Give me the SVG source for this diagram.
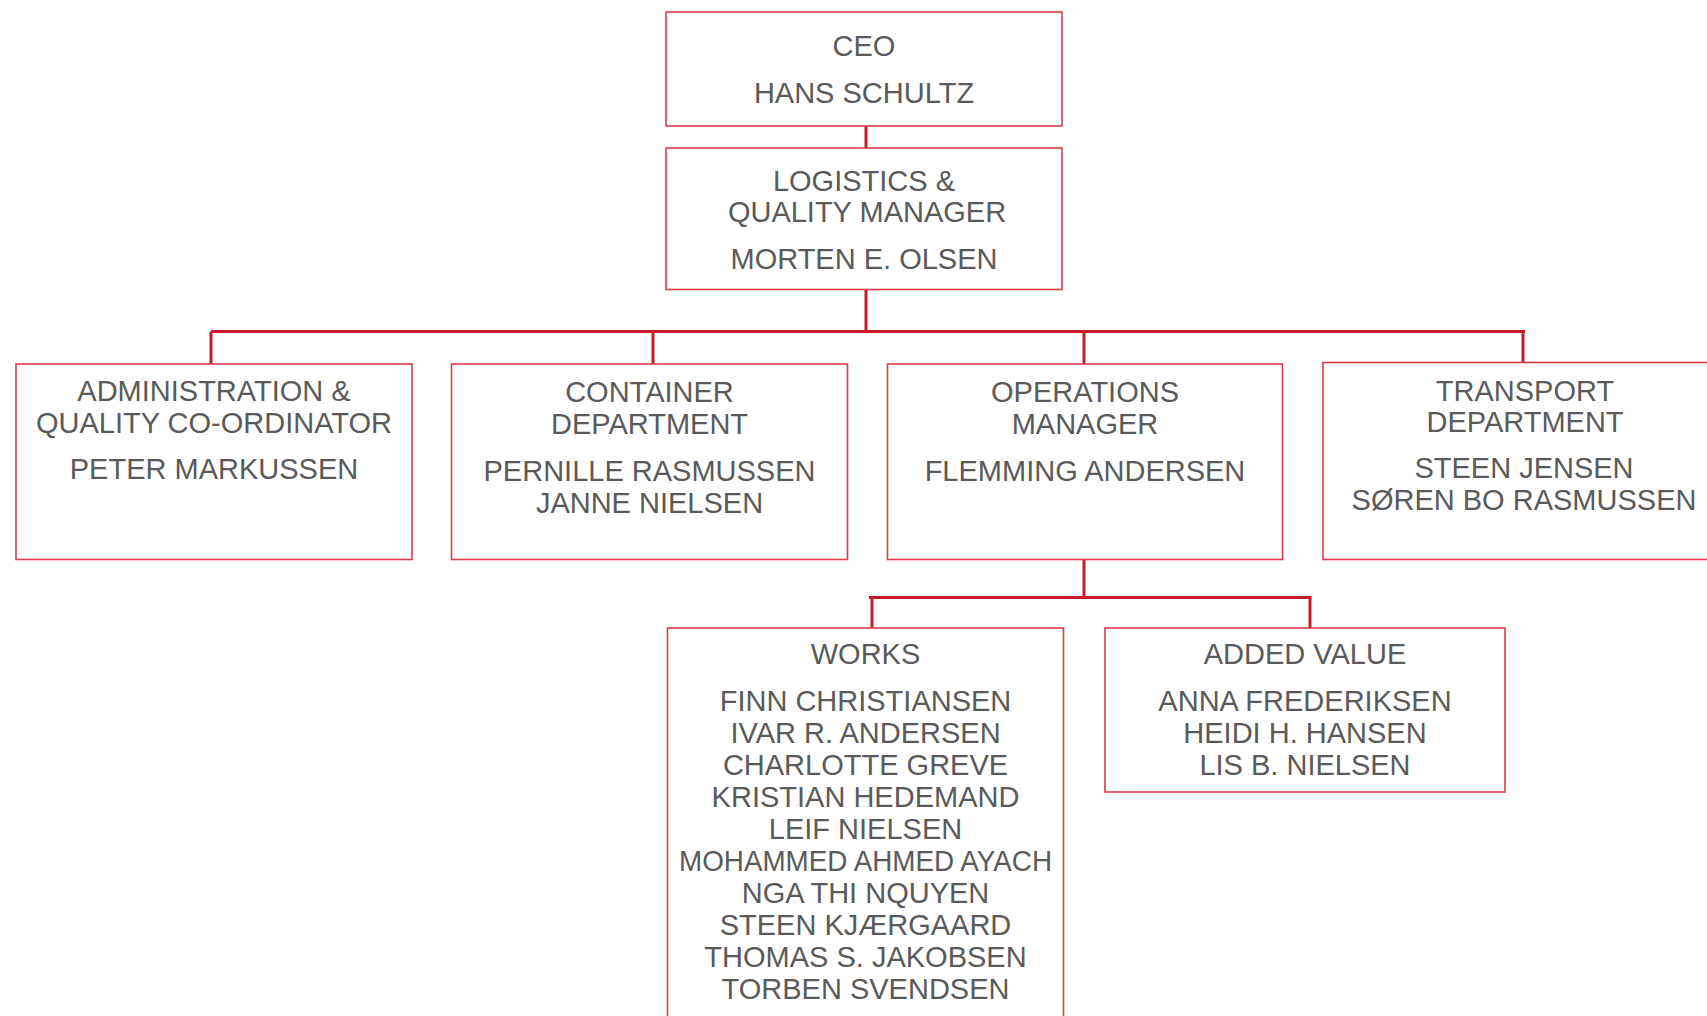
<svg xmlns="http://www.w3.org/2000/svg" width="1707" height="1016" viewBox="0 0 1707 1016">
<style>
.box{fill:#fff;stroke:#DE3A4A;stroke-width:1.6}
.conn{fill:none;stroke:#C8192B;stroke-width:3}
text{font-family:"Liberation Sans",Arial,sans-serif;font-size:29px;fill:#5a5a5a;text-anchor:middle}
</style>
<rect width="1707" height="1016" fill="#fff"/>
<g id="connectors">
<path class="conn" d="M866,126V148"/>
<path class="conn" d="M866,290V331.5"/>
<path class="conn" d="M211,331.5H1525"/>
<path class="conn" d="M211,331.5V364"/>
<path class="conn" d="M653,331.5V364"/>
<path class="conn" d="M1084,331.5V364"/>
<path class="conn" d="M1523,331.5V363"/>
<path class="conn" d="M1084,560V597.5"/>
<path class="conn" d="M869,597.5H1311.5"/>
<path class="conn" d="M872,597.5V628"/>
<path class="conn" d="M1310,597.5V628"/>
</g>
<g id="ceo">
<rect class="box" x="666" y="12" width="396" height="114"/>
<text x="864" y="56">CEO</text>
<text x="864" y="102.5">HANS SCHULTZ</text>
</g>
<g id="logistics">
<rect class="box" x="666" y="148" width="396" height="141.5"/>
<text x="864" y="190.5">LOGISTICS &amp;</text>
<text x="867" y="221.5">QUALITY MANAGER</text>
<text x="864" y="269">MORTEN E. OLSEN</text>
</g>
<g id="administration">
<rect class="box" x="16" y="364" width="396" height="195.5"/>
<text x="214" y="401">ADMINISTRATION &amp;</text>
<text x="214" y="432.5">QUALITY CO-ORDINATOR</text>
<text x="214" y="479">PETER MARKUSSEN</text>
</g>
<g id="container">
<rect class="box" x="451.5" y="364" width="396" height="195.5"/>
<text x="649.5" y="401.5">CONTAINER</text>
<text x="649.5" y="434">DEPARTMENT</text>
<text x="649.5" y="480.5">PERNILLE RASMUSSEN</text>
<text x="649.5" y="512.5">JANNE NIELSEN</text>
</g>
<g id="operations">
<rect class="box" x="887.5" y="364" width="395" height="195.5"/>
<text x="1085" y="401.5">OPERATIONS</text>
<text x="1085" y="434">MANAGER</text>
<text x="1085" y="480.5">FLEMMING ANDERSEN</text>
</g>
<g id="transport">
<rect class="box" x="1323" y="362.5" width="396" height="197"/>
<text x="1525" y="400.5">TRANSPORT</text>
<text x="1525" y="431.5">DEPARTMENT</text>
<text x="1524" y="478">STEEN JENSEN</text>
<text x="1524" y="510">SØREN BO RASMUSSEN</text>
</g>
<g id="works">
<rect class="box" x="667.5" y="628" width="396" height="420"/>
<text x="865.5" y="664">WORKS</text>
<text x="865.5" y="711">FINN CHRISTIANSEN</text>
<text x="865.5" y="743">IVAR R. ANDERSEN</text>
<text x="865.5" y="775">CHARLOTTE GREVE</text>
<text x="865.5" y="807">KRISTIAN HEDEMAND</text>
<text x="865.5" y="839">LEIF NIELSEN</text>
<text x="865.5" y="871" textLength="373" lengthAdjust="spacingAndGlyphs">MOHAMMED AHMED AYACH</text>
<text x="865.5" y="903">NGA THI NQUYEN</text>
<text x="865.5" y="935">STEEN KJÆRGAARD</text>
<text x="865.5" y="967">THOMAS S. JAKOBSEN</text>
<text x="865.5" y="999">TORBEN SVENDSEN</text>
</g>
<g id="added-value">
<rect class="box" x="1105" y="628" width="400" height="164"/>
<text x="1305" y="664">ADDED VALUE</text>
<text x="1305" y="711">ANNA FREDERIKSEN</text>
<text x="1305" y="743">HEIDI H. HANSEN</text>
<text x="1305" y="775">LIS B. NIELSEN</text>
</g>
</svg>
